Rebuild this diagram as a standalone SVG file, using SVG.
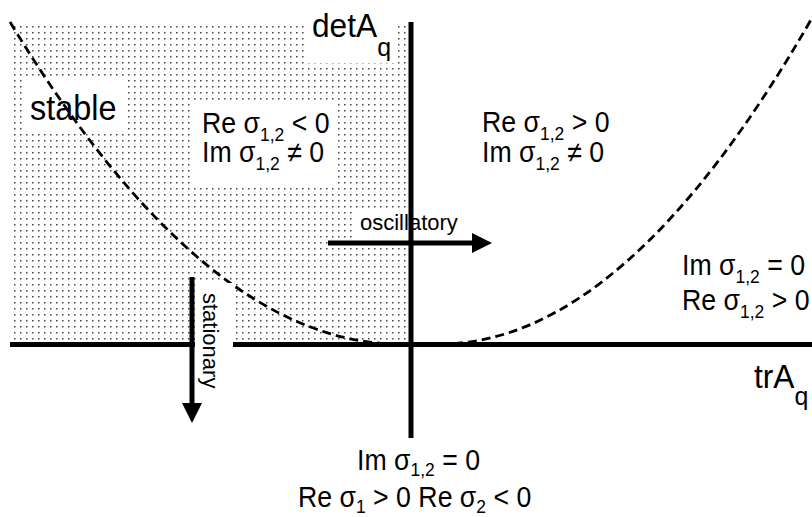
<svg xmlns="http://www.w3.org/2000/svg" width="812" height="517" viewBox="0 0 812 517">
<style>
  .t { font-family: "Liberation Sans", Arial, sans-serif; font-size: 29px; fill: #000; }
  .sub { font-size: 19px; }
  .axis { stroke: #000; stroke-width: 5; fill: none; }
  .arrow { stroke: #000; stroke-width: 5; fill: none; marker-end: url(#ah); }
  .curve { stroke: #000; stroke-width: 2.8; fill: none; stroke-dasharray: 9 5; }
  .knock { fill: #fff; }
</style>
<defs>
  <pattern id="dots" x="0" y="0" width="6" height="6" patternUnits="userSpaceOnUse">
    <rect x="2" y="2" width="1.5" height="1.5" fill="#444"/>
  </pattern>
  <marker id="ah" viewBox="0 0 20 20" refX="0" refY="10" markerWidth="20" markerHeight="20" markerUnits="userSpaceOnUse" orient="auto">
    <path d="M0,0 L20,10 L0,20 z" fill="#000"/>
  </marker>
</defs>
<rect width="812" height="517" fill="#fff"/>

<g id="stable-region">
  <rect x="11" y="22" width="398" height="321" fill="url(#dots)"/>
  <rect class="knock" x="304" y="18" width="94" height="45"/>
  <rect class="knock" x="22" y="80" width="102" height="53"/>
  <rect class="knock" x="194" y="101" width="144" height="87"/>
  <rect class="knock" x="355" y="210" width="60" height="30"/>
</g>

<g id="connectors">
  <path class="curve" d="M10,22 Q205,344 400,344"/>
  <path class="curve" d="M440,344 Q625,344 812,18"/>
  <line class="axis" x1="10" y1="344.5" x2="812" y2="344.5"/>
  <line class="axis" x1="411" y1="22" x2="411" y2="438"/>
  <rect class="knock" x="195" y="283" width="38" height="66"/>
  <line class="arrow" x1="328" y1="243" x2="472" y2="243"/>
  <line class="arrow" x1="192" y1="277" x2="192" y2="403"/>
</g>

<g id="label-detA">
  <text class="t" transform="translate(312 37) scale(0.96 1)" style="font-size:33px">detA<tspan class="sub" style="font-size:26px" dy="19">q</tspan></text>
</g>
<g id="label-stable">
  <text class="t" transform="translate(30 120) scale(0.9 1)" style="font-size:36px">stable</text>
</g>
<g id="label-left-complex">
  <text class="t" transform="translate(202 133) scale(0.92 1)">Re σ<tspan class="sub" dy="8">1,2</tspan><tspan dy="-8"> &lt; 0</tspan></text>
  <text class="t" transform="translate(202 162) scale(0.92 1)">Im σ<tspan class="sub" dy="8">1,2</tspan><tspan dy="-8"> ≠ 0</tspan></text>
</g>
<g id="label-right-complex">
  <text class="t" transform="translate(482 132) scale(0.92 1)">Re σ<tspan class="sub" dy="8">1,2</tspan><tspan dy="-8"> &gt; 0</tspan></text>
  <text class="t" transform="translate(482 162) scale(0.92 1)">Im σ<tspan class="sub" dy="8">1,2</tspan><tspan dy="-8"> ≠ 0</tspan></text>
</g>
<g id="label-right-real">
  <text class="t" transform="translate(682 275) scale(0.92 1)">Im σ<tspan class="sub" dy="8">1,2</tspan><tspan dy="-8"> = 0</tspan></text>
  <text class="t" transform="translate(682 310) scale(0.92 1)">Re σ<tspan class="sub" dy="8">1,2</tspan><tspan dy="-8"> &gt; 0</tspan></text>
</g>
<g id="label-trA">
  <text class="t" transform="translate(754 388) scale(0.96 1)" style="font-size:33px">trA<tspan class="sub" style="font-size:26px" dy="17">q</tspan></text>
</g>
<g id="label-saddle">
  <text class="t" transform="translate(357 470) scale(0.92 1)">Im σ<tspan class="sub" dy="6">1,2</tspan><tspan dy="-6"> = 0</tspan></text>
  <text class="t" transform="translate(298 507) scale(0.92 1)">Re σ<tspan class="sub" dy="6">1</tspan><tspan dy="-6"> &gt; 0 Re σ</tspan><tspan class="sub" dy="6">2</tspan><tspan dy="-6"> &lt; 0</tspan></text>
</g>
<g id="label-oscillatory">
  <text class="t" x="360" y="230" style="font-size:22px">oscillatory</text>
</g>
<g id="label-stationary">
  <text class="t" transform="translate(203 293) rotate(90)" style="font-size:22px">stationary</text>
</g>
</svg>
